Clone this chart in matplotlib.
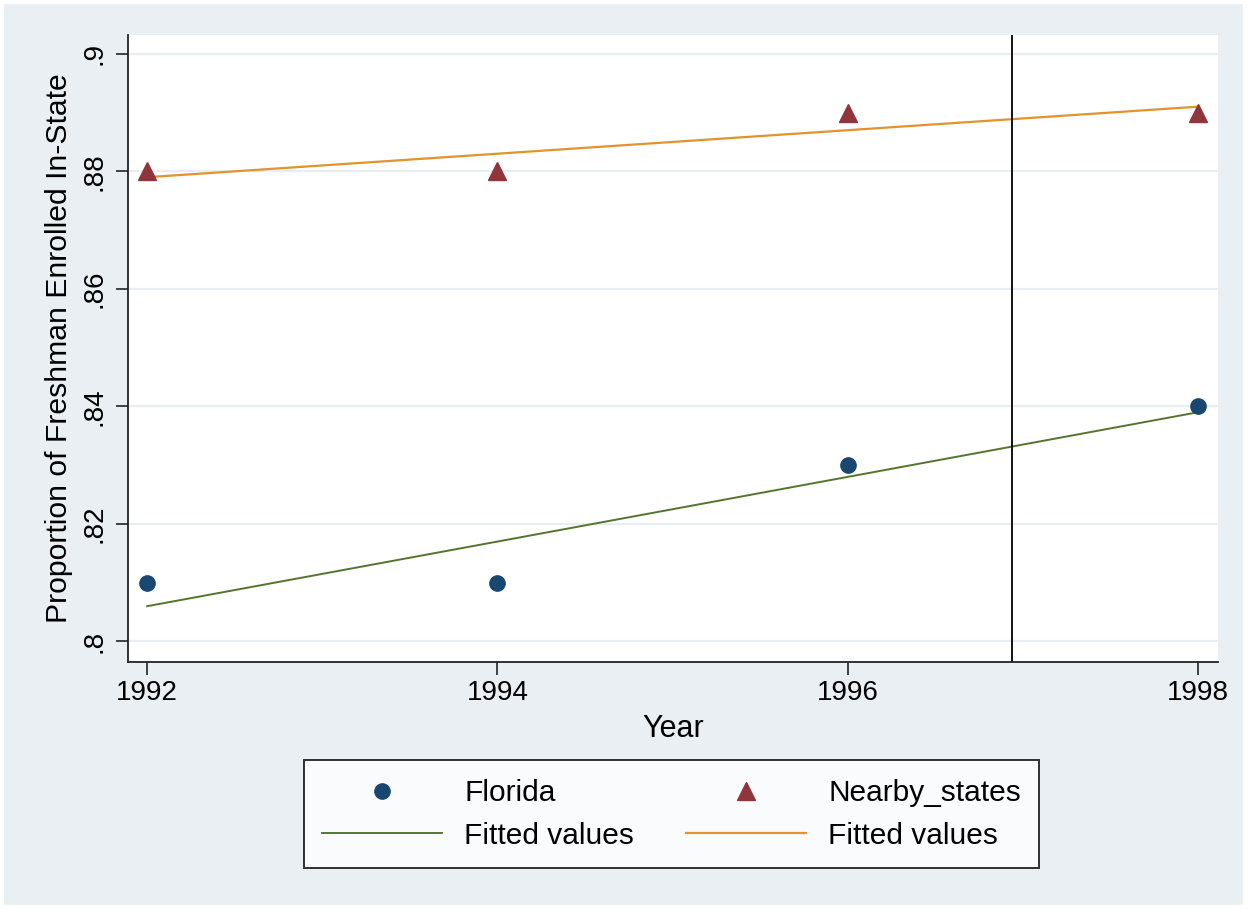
import matplotlib
matplotlib.use("Agg")
import matplotlib.pyplot as plt
from matplotlib.patches import Rectangle

plt.rcParams["font.family"] = ["Liberation Sans", "DejaVu Sans"]

years = [1992, 1994, 1996, 1998]
florida = [0.81, 0.81, 0.83, 0.84]
nearby = [0.88, 0.88, 0.89, 0.89]
fit_years = [1992, 1998]
florida_fit = [0.806, 0.839]
nearby_fit = [0.879, 0.891]
cutoff_year = 1996.94
yticks = [0.80, 0.82, 0.84, 0.86, 0.88, 0.90]
ytick_labels = [".8", ".82", ".84", ".86", ".88", ".9"]

BG = "#e9eff2"
NAVY, MAROON, GREEN, ORANGE = "#1a476f", "#90353b", "#55752f", "#e3922d"

fig = plt.figure(figsize=(12.47, 9.09), dpi=100, facecolor=BG)
fig.patches.append(Rectangle((0, 0), 1, 1, transform=fig.transFigure, fill=False,
                             ec="white", lw=6, zorder=10))
ax = fig.add_axes([0.1026, 0.2717, 0.8741, 0.6898])
ax.set_facecolor("white")

for y in yticks:
    ax.axhline(y, color="#e8eef2", lw=1.6, zorder=0)

ax.plot(years, florida, "o", color=NAVY, ms=11, ls="none", label="Florida", zorder=3)
ax.plot(years, nearby, "^", color=MAROON, ms=13, ls="none", label="Nearby_states", zorder=3)
ax.plot(fit_years, florida_fit, color=GREEN, lw=1.4, label="Fitted values", zorder=2)
ax.plot(fit_years, nearby_fit, color=ORANGE, lw=1.6, label="Fitted values", zorder=2)
ax.axvline(cutoff_year, color="black", lw=1.3, zorder=2)

ax.set_xlim(1991.89, 1998.115)
ax.set_ylim(0.7965, 0.9032)
ax.set_xticks(years)
ax.set_yticks(yticks)
ax.set_yticklabels(ytick_labels, rotation=90, va="center")
ax.tick_params(labelsize=20, length=9, width=1.3, color="#333333", pad=4)
ax.tick_params(axis="y", pad=6)
for s in ["top", "right"]:
    ax.spines[s].set_visible(False)
for s in ["left", "bottom"]:
    ax.spines[s].set_linewidth(1.3)
    ax.spines[s].set_color("#222222")
ax.set_xlabel("Year", fontsize=22, labelpad=6)
ax.set_ylabel("Proportion of Freshman Enrolled In-State", fontsize=21.7, labelpad=6)

h, l = ax.get_legend_handles_labels()
order = [0, 2, 1, 3]
leg = fig.legend([h[i] for i in order], [l[i] for i in order], ncol=2,
                 loc="center", bbox_to_anchor=(0.5385, 0.104), fontsize=21.5,
                 frameon=True, fancybox=False, edgecolor="black", handlelength=4,
                 handletextpad=0.75, columnspacing=1.75, labelspacing=0.5,
                 borderpad=0.62)
leg.get_frame().set_linewidth(1.4)
leg.get_frame().set_facecolor("white")

fig.savefig("out.png", dpi=100, facecolor=BG)
